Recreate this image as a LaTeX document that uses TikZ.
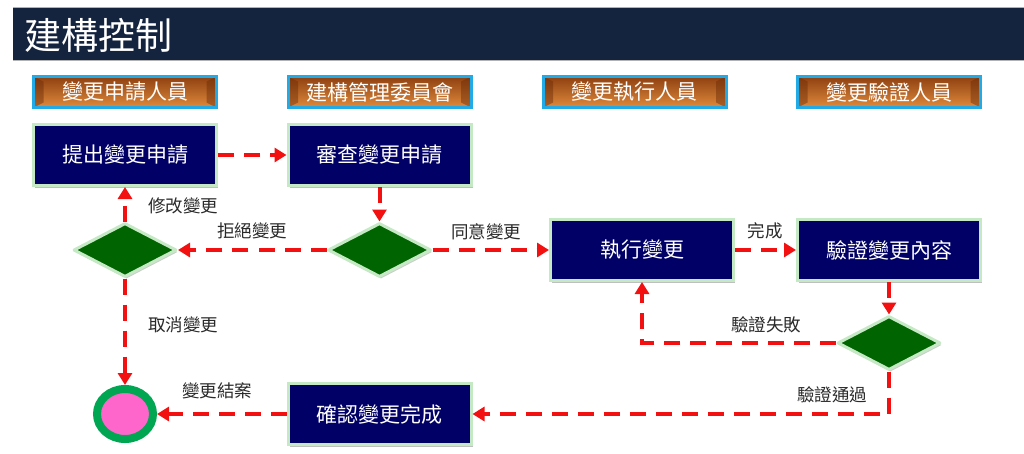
\documentclass[tikz,border=0pt]{standalone}
\usepackage{fontspec}
\setmainfont{Noto Sans CJK TC}
\usetikzlibrary{arrows.meta,shapes.geometric,shadows,calc}
\definecolor{titlebar}{HTML}{14243F}
\definecolor{navyfill}{HTML}{000066}
\definecolor{boxedge}{HTML}{C5E8C5}
\definecolor{diafill}{HTML}{006400}
\definecolor{ringgreen}{HTML}{00A651}
\definecolor{pinkfill}{HTML}{FF66CC}
\definecolor{flowred}{HTML}{F21010}
\definecolor{labelgray}{HTML}{2A2A2A}
\definecolor{rolecyan}{HTML}{22AAE6}
\definecolor{roletop}{HTML}{8E4010}
\definecolor{rolebot}{HTML}{E08A3C}
\definecolor{rolebevel}{HTML}{6A2C08}
\begin{document}
\begin{tikzpicture}[x=1pt,y=-1pt,
  procbox/.style={rectangle, draw=boxedge, line width=3pt, fill=navyfill,
    minimum width=183pt, minimum height=61pt, inner sep=0pt, text=white,
    font=\fontsize{21}{24}\selectfont,
    drop shadow={shadow xshift=1.5pt, shadow yshift=-2pt, opacity=0.25, fill=black}},
  rolebox/.style={rectangle, draw=rolecyan, line width=3pt,
    top color=roletop, bottom color=rolebot,
    minimum width=183pt, minimum height=31pt, inner sep=0pt, text=white,
    font=\fontsize{21}{24}\selectfont,
    path picture={
      \fill[rolebevel,opacity=0.45] (path picture bounding box.north west)
        -- ([xshift=10pt,yshift=-5pt]path picture bounding box.north west)
        -- ([xshift=10pt,yshift=5pt]path picture bounding box.south west)
        -- (path picture bounding box.south west) -- cycle;
      \fill[rolebevel,opacity=0.45] (path picture bounding box.north east)
        -- ([xshift=-10pt,yshift=-5pt]path picture bounding box.north east)
        -- ([xshift=-10pt,yshift=5pt]path picture bounding box.south east)
        -- (path picture bounding box.south east) -- cycle;
      \draw[rolebevel,line width=1pt] (path picture bounding box.north west) rectangle (path picture bounding box.south east);
    }},
  decision/.style={diamond, draw=boxedge, line width=3pt, line join=round, fill=diafill,
    minimum width=103pt, minimum height=54pt, inner sep=0pt,
    drop shadow={shadow xshift=1.5pt, shadow yshift=-2pt, opacity=0.2, fill=black}},
  endstate/.style={ellipse, draw=ringgreen, line width=8pt, fill=pinkfill,
    minimum width=56pt, minimum height=50pt, inner sep=0pt},
  flow/.style={draw=flowred, line width=4pt, dash pattern=on 16pt off 10pt,
    -{Triangle[length=12pt,width=14pt]}},
  flowlabel/.style={text=labelgray, font=\fontsize{17.5}{20}\selectfont, inner sep=0pt}
]
\useasboundingbox (0,0) rectangle (1024,453);
\fill[white] (0,0) rectangle (1024,453);
% title bar
\fill[titlebar] (13,8) rectangle (1024,60);
\draw[gray!60, line width=1pt] (13,7.5) -- (1024,7.5);
\draw[gray!60, line width=1pt] (13,60.5) -- (1024,60.5);
\node[anchor=west, text=white, font=\fontsize{37}{40}\selectfont, inner sep=0pt] (title) at (24,35) {建構控制};
% roles
\node[rolebox] (role1) at (125,92) {變更申請人員};
\node[rolebox] (role2) at (379.5,92) {建構管理委員會};
\node[rolebox] (role3) at (634.5,92) {變更執行人員};
\node[rolebox] (role4) at (889,92) {變更驗證人員};
% process boxes
\node[procbox] (submit) at (125,155) {提出變更申請};
\node[procbox] (review) at (379.5,155) {審查變更申請};
\node[procbox] (exec) at (642,250) {執行變更};
\node[procbox] (verify) at (889,250) {驗證變更內容};
\node[procbox] (confirm) at (379.5,414) {確認變更完成};
% decisions
\node[decision] (d1) at (125,250) {};
\node[decision] (d2) at (379.5,250) {};
\node[decision] (d3) at (889,343) {};
% end state
\node[endstate] (endst) at (125,414) {};
% connectors
\draw[flow] (submit) -- (review);
\draw[flow] (review) -- (d2);
\draw[flow] (d2) -- (d1);
\draw[flow] (d1) -- (submit);
\draw[flow] (d1) -- (endst);
\draw[flow] (d2) -- (exec);
\draw[flow] (exec) -- (verify);
\draw[flow] (verify) -- (d3);
\draw[flow] (d3.west) -| (exec.south);
\draw[flow] (d3.south) |- (confirm.east);
\draw[flow] (confirm) -- (endst);
% labels
\node[flowlabel] (lmodify) at (183,206) {修改變更};
\node[flowlabel] (lreject) at (252,231) {拒絕變更};
\node[flowlabel] (lagree) at (486,232) {同意變更};
\node[flowlabel] (ldone) at (765,231) {完成};
\node[flowlabel] (lcancel) at (183,325) {取消變更};
\node[flowlabel] (lclose) at (217,391) {變更結案};
\node[flowlabel] (lfail) at (766,325) {驗證失敗};
\node[flowlabel] (lpass) at (832,395) {驗證通過};
\end{tikzpicture}
\end{document}
